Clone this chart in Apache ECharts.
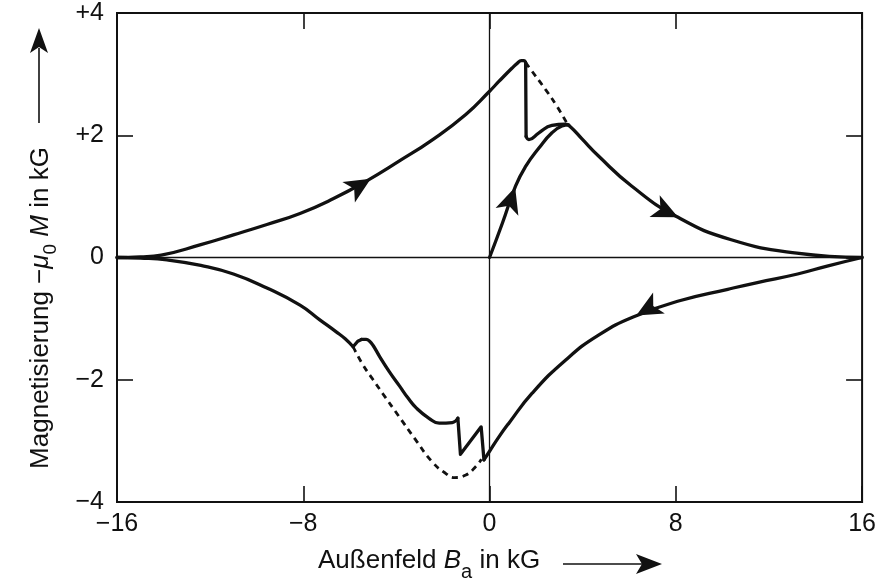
<!DOCTYPE html>
<html><head><meta charset="utf-8">
<script src="https://cdn.jsdelivr.net/npm/echarts@6/dist/echarts.min.js"></script>
<style>html,body{margin:0;padding:0;background:#fff}#c{width:879px;height:586px}</style>
</head><body><div id="c"></div>
<script>
// ---- tick values & labels ----
const xTicks = [-16, -8, 0, 8, 16];
const xTickLabels = ['\u221216', '\u22128', '0', '8', '16'];
const yTicks = [-4, -2, 0, 2, 4];
const yTickLabels = ['\u22124', '\u22122', '0', '+2', '+4'];

// ---- curve data [B_a (kG), -mu0 M (kG)] ----
const upperRise = [[-16,0],[-15,0.01],[-14.1,0.04],[-12.4,0.21],[-11,0.37],[-9.56,0.54],[-8.14,0.72],[-6.72,0.96],[-5.29,1.25],[-3.87,1.58],[-2.44,1.93],[-1.02,2.34],[0,2.72],[0.4,2.88],[0.97,3.1],[1.2,3.18],[1.36,3.22],[1.48,3.22],[1.55,3.19]];
const upperDrop = [[1.55,3.19],[1.57,1.98]];
const upperFall = [[1.57,1.98],[1.69,1.93],[2.12,2.04],[2.68,2.16],[3.26,2.18],[3.47,2.14],[3.97,1.94],[4.68,1.66],[6.1,1.17],[8.03,0.67],[10.38,0.29],[13.2,0.07],[16,0]];
const virgin = [[0,0],[0.55,0.56],[1.12,1.17],[1.55,1.49],[2.12,1.79],[2.68,2.04],[3.11,2.15],[3.4,2.17]];
const dashUpper = [[1.55,3.19],[1.76,3.08],[2.4,2.75],[2.9,2.47],[3.35,2.18]];
const lowerFall = [[16,0],[14.5,-0.14],[13.23,-0.27],[11.5,-0.41],[10.23,-0.52],[8.24,-0.70],[6.25,-0.96],[4.68,-1.27],[3.26,-1.68],[1.83,-2.22],[0.83,-2.71],[0.41,-2.93],[0,-3.17],[-0.24,-3.31]];
const lowerJag = [[-0.24,-3.31],[-0.36,-2.77],[-1.25,-3.22],[-1.36,-2.63]];
const lowerMid = [[-1.36,-2.63],[-1.6,-2.70],[-2.16,-2.71],[-2.6,-2.63],[-3.15,-2.46],[-3.5,-2.3],[-3.87,-2.1],[-4.3,-1.87],[-4.72,-1.62],[-5.0,-1.44],[-5.15,-1.37],[-5.3,-1.34],[-5.5,-1.34]];
const lowerHump = [[-5.5,-1.34],[-5.66,-1.37],[-5.86,-1.46]];
const lowerTail = [[-5.86,-1.46],[-6.2,-1.33],[-6.57,-1.22],[-7.29,-1.02],[-8.14,-0.78],[-9.56,-0.50],[-11,-0.27],[-12.4,-0.13],[-13.85,-0.04],[-15,-0.01],[-16,0]];
const dashLower = [[-5.86,-1.46],[-5.43,-1.76],[-5.0,-2.0],[-4.6,-2.22],[-3.89,-2.6],[-3.18,-2.98],[-2.47,-3.34],[-1.89,-3.53],[-1.5,-3.6],[-1.02,-3.56],[-0.59,-3.42],[-0.35,-3.3]];

// ---- direction arrows on the curves ----
const arrowAt = [[-5.1,1.29],[1.1,1.15],[8.1,0.66],[6.3,-0.95]];
const arrowToward = [[-4.5,1.43],[1.3,1.38],[9.0,0.5],[5.5,-1.12]];

const FONT = '"Liberation Sans", Arial, Helvetica, sans-serif';
const INK = '#111';

function solid(data, smooth, extra) {
  return Object.assign({type:'line', data:data, smooth:smooth, symbol:'none', silent:true,
    lineStyle:{color:INK, width:3.3, join:'round', cap:'round'}, z:5}, extra||{});
}
function dashed(data) {
  return {type:'line', data:data, smooth:true, symbol:'none', silent:true,
    lineStyle:{color:INK, width:2.8, type:[6,5]}, z:4};
}
function axisBase(pos, showLabel, ticks, labels, isX) {
  return {
    type:'value', position:pos, min:ticks[0], max:ticks[ticks.length-1],
    interval:ticks[1]-ticks[0],
    axisLine:{show:false, onZero:false},
    axisTick:{show:true, inside:true, length:16, lineStyle:{color:INK, width:1.6}},
    splitLine:{show:false},
    axisLabel:{show:showLabel, color:INK, fontFamily:FONT, fontSize:25, margin:isX?10:13,
      formatter:function(v){ const i = ticks.indexOf(v); return i>=0 ? labels[i] : ''; }}
  };
}

const chart = echarts.init(document.getElementById('c'), null, {renderer:'canvas'});
const option = {
  animation:false,
  backgroundColor:'#fff',
  grid:{left:117, top:13, right:13, bottom:84, show:true, borderColor:INK, borderWidth:2, backgroundColor:'transparent'},
  xAxis:[axisBase('bottom', true, xTicks, xTickLabels, true), axisBase('top', false, xTicks, xTickLabels, true)],
  yAxis:[axisBase('left', true, yTicks, yTickLabels, false), axisBase('right', false, yTicks, yTickLabels, false)],
  series:[
    solid(virgin, true, {markLine:{silent:true, symbol:'none', label:{show:false}, animation:false,
      lineStyle:{color:INK, width:1.3, type:'solid'}, data:[{xAxis:0},{yAxis:0}]}}),
    solid(upperRise, true),
    solid(upperDrop, false),
    solid(upperFall, true),
    dashed(dashUpper),
    solid(lowerFall, true),
    solid(lowerJag, false),
    solid(lowerMid, true),
    solid(lowerHump, false),
    solid(lowerTail, true),
    dashed(dashLower),
    {id:'arrows', type:'scatter', silent:true, symbol:'arrow', symbolSize:[18,26], z:6,
      itemStyle:{color:INK, opacity:1}, data:arrowAt.map(p=>({value:p}))}
  ],
  graphic:[
    {type:'text', x:318, y:561, z:10, style:{
      text:'Au\u00dfenfeld {it|B}{sub|a} in kG', fill:INK, font:'26px '+FONT, align:'left', verticalAlign:'middle',
      rich:{it:{fontStyle:'italic', fontSize:26, fontFamily:FONT, fill:INK},
            sub:{fontSize:20, fontFamily:FONT, fill:INK, lineHeight:20, padding:[22,0,0,0]}}}},
    {type:'line', z:10, shape:{x1:563, y1:564, x2:642, y2:564}, style:{stroke:INK, lineWidth:1.6}},
    {type:'polygon', z:10, shape:{points:[[662,564],[636,554],[642,564],[636,574]]}, style:{fill:INK}},
    {type:'text', x:41, y:308, rotation:Math.PI/2, z:10, style:{
      text:'Magnetisierung \u2212{it|\u03bc}{sub|0} {it|M} in kG', fill:INK, font:'26px '+FONT, align:'center', verticalAlign:'middle',
      rich:{it:{fontStyle:'italic', fontSize:26, fontFamily:FONT, fill:INK},
            sub:{fontSize:19, fontFamily:FONT, fill:INK, lineHeight:19, padding:[20,0,0,0]}}}},
    {type:'line', z:10, shape:{x1:39, y1:123, x2:39, y2:48}, style:{stroke:INK, lineWidth:1.6}},
    {type:'polygon', z:10, shape:{points:[[39,28],[30,53],[39,47],[48,53]]}, style:{fill:INK}}
  ]
};
chart.setOption(option);

// orient arrowheads along the curve using the chart's own scales
const rotated = arrowAt.map(function(p, i){
  const a = chart.convertToPixel({gridIndex:0}, p);
  const b = chart.convertToPixel({gridIndex:0}, arrowToward[i]);
  const ang = Math.atan2(-(b[1]-a[1]), b[0]-a[0]) * 180 / Math.PI;
  return {value:p, symbolRotate: ang - 90};
});
chart.setOption({series:[{id:'arrows', data:rotated}]});
</script>
</body></html>
